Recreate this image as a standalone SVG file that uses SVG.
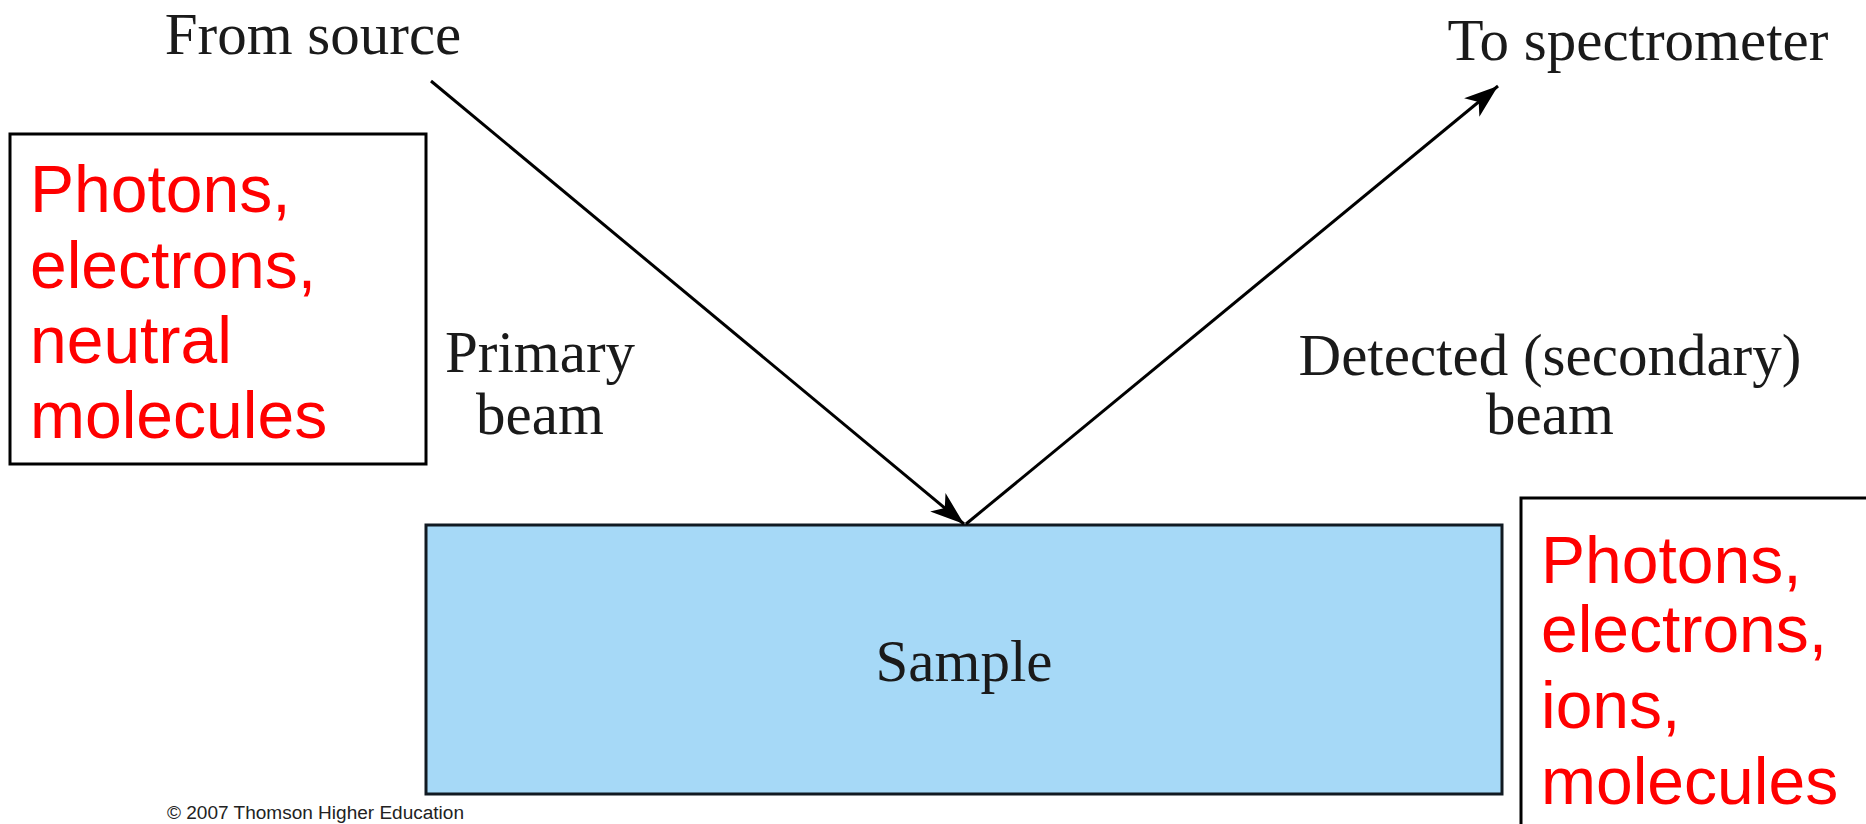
<svg xmlns="http://www.w3.org/2000/svg" width="1866" height="824" viewBox="0 0 1866 824">
  <style>
    .serif { font-family: "Liberation Serif", "Times New Roman", serif; font-size: 59px; fill: #1a1a1a; }
    .red { font-family: "Liberation Sans", Arial, sans-serif; font-size: 66px; fill: #ff0000; }
    .box { fill: #ffffff; stroke: #000000; stroke-width: 3; }
    .beam { stroke: #000000; stroke-width: 3; fill: none; }
    .note { font-family: "Liberation Sans", Arial, sans-serif; font-size: 18px; fill: #222222; }
  </style>
  <defs>
    <marker id="arrow" markerUnits="userSpaceOnUse" markerWidth="40" markerHeight="30" viewBox="-36 -15 40 30" refX="0" refY="0" orient="auto">
      <path d="M0,0 L-34,-12 L-25,0 L-34,12 Z" fill="#000000"/>
    </marker>
  </defs>

  <rect width="1866" height="824" fill="#ffffff"/>

  <!-- sample slab -->
  <g id="sample">
    <rect x="426" y="525" width="1076" height="269" fill="#a6d9f7" stroke="#111a22" stroke-width="3"/>
    <text class="serif" x="964" y="681" text-anchor="middle">Sample</text>
  </g>

  <!-- incoming and outgoing beams -->
  <g id="connectors">
    <line class="beam" x1="431" y1="81" x2="964" y2="524" marker-end="url(#arrow)"/>
    <line class="beam" x1="966" y1="524" x2="1498" y2="86" marker-end="url(#arrow)"/>
  </g>

  <g id="source-label">
    <text class="serif" x="313" y="54" text-anchor="middle">From source</text>
  </g>

  <g id="spectrometer-label">
    <text class="serif" x="1638" y="60" text-anchor="middle">To spectrometer</text>
  </g>

  <g id="primary-label">
    <text class="serif" x="540" y="372" text-anchor="middle">Primary</text>
    <text class="serif" x="540" y="434" text-anchor="middle">beam</text>
  </g>

  <g id="secondary-label">
    <text class="serif" x="1550" y="375" text-anchor="middle">Detected (secondary)</text>
    <text class="serif" x="1550" y="434" text-anchor="middle">beam</text>
  </g>

  <!-- probe particle types -->
  <g id="primary-particles">
    <rect class="box" x="10" y="134" width="416" height="330"/>
    <text class="red" x="30" y="212">Photons,</text>
    <text class="red" x="30" y="288">electrons,</text>
    <text class="red" x="30" y="363">neutral</text>
    <text class="red" x="30" y="438">molecules</text>
  </g>

  <!-- detected particle types -->
  <g id="secondary-particles">
    <rect class="box" x="1521" y="498" width="360" height="340"/>
    <text class="red" x="1541" y="583">Photons,</text>
    <text class="red" x="1541" y="652">electrons,</text>
    <text class="red" x="1541" y="728">ions,</text>
    <text class="red" x="1541" y="804">molecules</text>
  </g>

  <g id="credit">
    <text class="note" x="167" y="819" textLength="297" lengthAdjust="spacingAndGlyphs">© 2007 Thomson Higher Education</text>
  </g>
</svg>
